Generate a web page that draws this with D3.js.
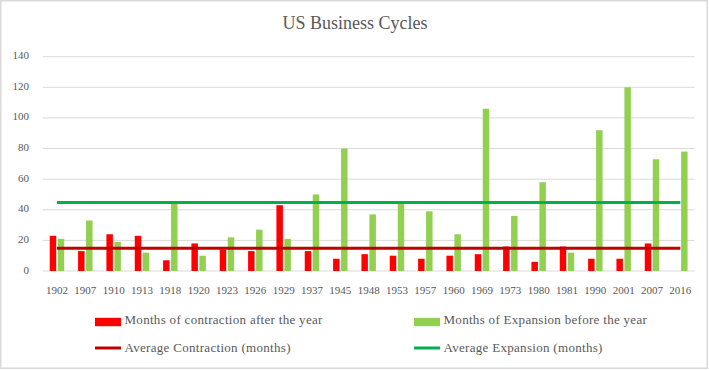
<!DOCTYPE html>
<html>
<head>
<meta charset="utf-8">
<script src="https://cdn.jsdelivr.net/npm/d3@7"></script>
<style>
  body { margin: 0; background: #fff; }
  svg text { font-family: "Liberation Serif", "DejaVu Serif", serif; fill: #595959; }
</style>
</head>
<body>
<div id="chart"></div>
<script>
const years = ["1902","1907","1910","1913","1918","1920","1923","1926","1929","1937","1945","1948",
    "1953","1957","1960","1969","1973","1980","1981","1990","2001","2007","2016"];
const contraction = [23, 13, 24, 23, 7, 18, 14, 13, 43, 13, 8, 11, 10, 8, 10, 11, 16, 6, 16, 8, 8, 18, 0];
const expansion = [21, 33, 19, 12, 44, 10, 22, 27, 21, 50, 80, 37, 45, 39, 24, 106, 36, 58, 12, 92, 120, 73, 78];
const avgContraction = 14.8;
const avgExpansion = 44.7;
const yTicks = [0, 20, 40, 60, 80, 100, 120, 140];

const width = 709, height = 370;
const plot = { left: 42.8, right: 694.5, top: 56.7, bottom: 271 };

const svg = d3.select("#chart").append("svg")
    .attr("width", width)
    .attr("height", height);

svg.append("rect")
    .attr("x", 0.75).attr("y", 0.75)
    .attr("width", 706.5).attr("height", 367.5)
    .attr("fill", "#fff")
    .attr("stroke", "#d9d9d9")
    .attr("stroke-width", 1.5);

svg.append("text")
    .attr("x", 355).attr("y", 28.5)
    .attr("text-anchor", "middle")
    .attr("font-size", 18)
    .text("US Business Cycles");

const x = d3.scaleBand()
    .domain(years)
    .range([plot.left, plot.right])
    .paddingInner(0.49)
    .paddingOuter(0.245);

const xs = d3.scaleBand()
    .domain(["contraction", "expansion"])
    .range([0, x.bandwidth()])
    .paddingInner(0.19);

const y = d3.scaleLinear()
    .domain([0, 140])
    .range([plot.bottom, plot.top]);

// gridlines
svg.append("g")
    .selectAll("line")
    .data(yTicks)
    .join("line")
    .attr("x1", plot.left).attr("x2", plot.right)
    .attr("y1", d => y(d)).attr("y2", d => y(d))
    .attr("stroke", "#d9d9d9")
    .attr("stroke-width", 1);

// y labels
svg.append("g")
    .selectAll("text")
    .data(yTicks)
    .join("text")
    .attr("x", 29)
    .attr("y", d => y(d) - 1.5)
    .attr("text-anchor", "end")
    .attr("dominant-baseline", "central")
    .attr("font-size", 11)
    .text(d => d);

// x labels
svg.append("g")
    .selectAll("text")
    .data(years)
    .join("text")
    .attr("x", d => x(d) + x.bandwidth() / 2)
    .attr("y", 289.5)
    .attr("text-anchor", "middle")
    .attr("dominant-baseline", "central")
    .attr("font-size", 11)
    .text(d => d);

// bars
svg.append("g")
    .selectAll("rect")
    .data(contraction)
    .join("rect")
    .attr("x", (d, i) => x(years[i]) + xs("contraction"))
    .attr("y", d => y(d))
    .attr("width", xs.bandwidth())
    .attr("height", d => y(0) - y(d))
    .attr("fill", "#ff0000");

svg.append("g")
    .selectAll("rect")
    .data(expansion)
    .join("rect")
    .attr("x", (d, i) => x(years[i]) + xs("expansion"))
    .attr("y", d => y(d))
    .attr("width", xs.bandwidth())
    .attr("height", d => y(0) - y(d))
    .attr("fill", "#92d050");

// average lines
const center = d => x(d) + x.bandwidth() / 2;
const line = d3.line().x(d => center(d[0])).y(d => y(d[1]));

svg.append("path")
    .attr("d", line(years.map(yr => [yr, avgContraction])))
    .attr("fill", "none")
    .attr("stroke", "#c00000")
    .attr("stroke-width", 3);

svg.append("path")
    .attr("d", line(years.map(yr => [yr, avgExpansion])))
    .attr("fill", "none")
    .attr("stroke", "#00b050")
    .attr("stroke-width", 3);

// legend
const legend = [
    { label: "Months of contraction after the year", color: "#ff0000", type: "rect", x: 95, y: 322 },
    { label: "Months of Expansion before the year", color: "#92d050", type: "rect", x: 414, y: 322 },
    { label: "Average Contraction (months)", color: "#c00000", type: "line", x: 95, y: 348 },
    { label: "Average Expansion (months)", color: "#00b050", type: "line", x: 414, y: 348 }
];

const lg = svg.append("g").selectAll("g")
    .data(legend)
    .join("g")
    .attr("transform", d => `translate(${d.x},${d.y})`);

lg.filter(d => d.type === "rect").append("rect")
    .attr("x", 0).attr("y", -4.2)
    .attr("width", 26).attr("height", 8.4)
    .attr("fill", d => d.color);

lg.filter(d => d.type === "line").append("line")
    .attr("x1", 0).attr("x2", 26)
    .attr("y1", 0).attr("y2", 0)
    .attr("stroke", d => d.color)
    .attr("stroke-width", 3);

lg.append("text")
    .attr("x", 29.5)
    .attr("y", d => d.type === "rect" ? 1.5 : 3.5)
    .attr("font-size", 13)
    .attr("letter-spacing", 0.3)
    .text(d => d.label);
</script>
</body>
</html>
